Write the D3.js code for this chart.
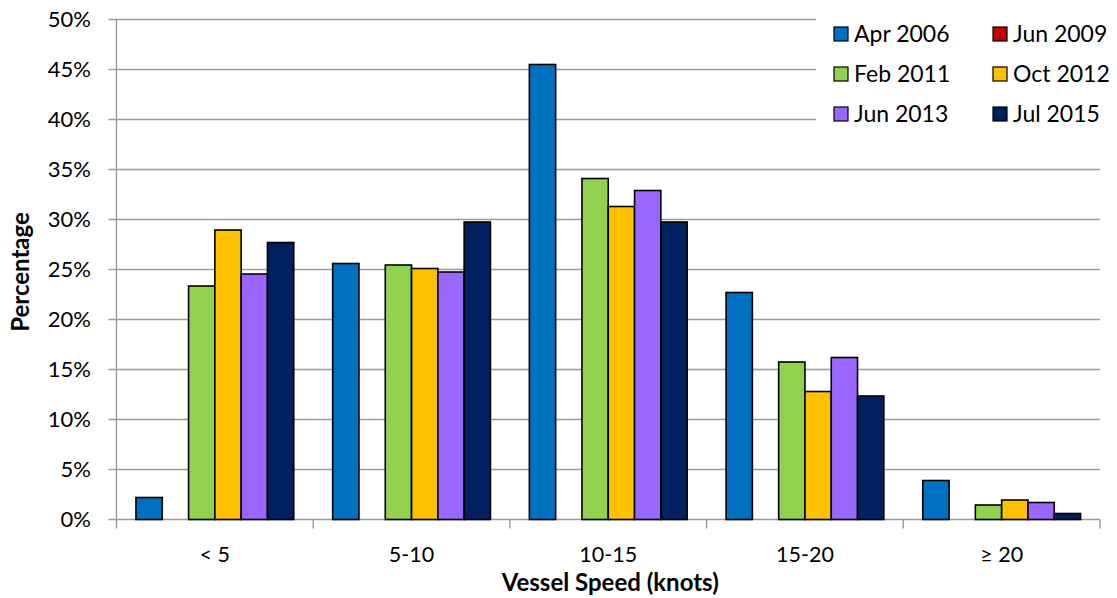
<!DOCTYPE html>
<html><head><meta charset="utf-8">
<script src="https://cdn.jsdelivr.net/npm/d3@7"></script>
<style>body{margin:0;background:#fff;} svg{display:block;font-family:Lato,"Open Sans",sans-serif;}</style>
</head><body><svg id="c" width="1117" height="598"></svg>
<script>
const categories = ["< 5", "5-10", "10-15", "15-20", "≥ 20"];
const seriesNames = ["Apr 2006", "Jun 2009", "Feb 2011", "Oct 2012", "Jun 2013", "Jul 2015"];
const seriesColors = ["#0070C0", "#C00000", "#92D050", "#FFC000", "#9966FF", "#002060"];
const apr2006 = [2.2, 25.6, 45.5, 22.7, 3.9];
const jun2009 = [0, 0, 0, 0, 0];
const feb2011 = [23.35, 25.45, 34.1, 15.75, 1.45];
const oct2012 = [28.95, 25.1, 31.3, 12.8, 1.95];
const jun2013 = [24.55, 24.75, 32.9, 16.2, 1.7];
const jul2015 = [27.7, 29.75, 29.75, 12.35, 0.6];
const yTicks = [0, 5, 10, 15, 20, 25, 30, 35, 40, 45, 50];
const series = [apr2006, jun2009, feb2011, oct2012, jun2013, jul2015];

const svg = d3.select("#c");
const pL = 116.5, pR = 1100, pT = 19.5, pB = 519.5;
const x0 = d3.scaleBand().domain(categories).range([pL, pR]).paddingInner(0).paddingOuter(0);
const x1 = d3.scaleBand().domain(seriesNames).range([0, x0.bandwidth()]).paddingOuter(0.74).paddingInner(0);
const y = d3.scaleLinear().domain([0, 50]).range([pB, pT]);

// gridlines
svg.append("g").selectAll("line").data(yTicks).join("line")
  .attr("x1", pL - 8).attr("x2", pR)
  .attr("y1", d => y(d)).attr("y2", d => y(d))
  .attr("stroke", "#9a9a9a").attr("stroke-width", 1.4);

// y axis line
svg.append("line").attr("x1", pL).attr("x2", pL).attr("y1", pT).attr("y2", pB)
  .attr("stroke", "#9a9a9a").attr("stroke-width", 1.4);

// x category ticks
const xt = categories.map(c => x0(c)).concat([pR]);
svg.append("g").selectAll("line").data(xt).join("line")
  .attr("x1", d => d).attr("x2", d => d).attr("y1", pB).attr("y2", pB + 9)
  .attr("stroke", "#9a9a9a").attr("stroke-width", 1.4);

// y tick labels
svg.append("g").selectAll("text").data(yTicks).join("text")
  .attr("x", 91).attr("y", d => y(d)).attr("dy", "0.36em")
  .attr("text-anchor", "end").attr("font-size", 22).attr("fill", "#000")
  .text(d => d + "%");

// x tick labels
svg.append("g").selectAll("text").data(categories).join("text")
  .attr("x", d => x0(d) + x0.bandwidth() / 2).attr("y", 562)
  .attr("text-anchor", "middle").attr("font-size", 21.5).attr("fill", "#000")
  .text(d => d);

// bars
const g = svg.append("g");
series.forEach((vals, si) => {
  g.append("g").selectAll("rect").data(vals.map((v, i) => ({ c: categories[i], v })).filter(d => d.v > 0))
    .join("rect")
    .attr("x", d => x0(d.c) + x1(seriesNames[si]))
    .attr("width", x1.bandwidth())
    .attr("y", d => y(d.v))
    .attr("height", d => y(0) - y(d.v))
    .attr("fill", seriesColors[si])
    .attr("stroke", "#000").attr("stroke-width", 1.6);
});

// axis titles
svg.append("text").attr("x", (pL + pR) / 2 + 2).attr("y", 591)
  .attr("text-anchor", "middle").attr("font-size", 24).attr("font-weight", "bold")
  .text("Vessel Speed (knots)");
svg.append("text").attr("transform", "translate(29,272) rotate(-90)")
  .attr("text-anchor", "middle").attr("font-size", 24).attr("font-weight", "bold")
  .text("Percentage");

// legend
const lg = svg.append("g");
lg.append("rect").attr("x", 816).attr("y", 10).attr("width", 300).attr("height", 125).attr("fill", "#fff");
seriesNames.forEach((n, i) => {
  const col = i % 2, row = Math.floor(i / 2);
  const lx = col === 0 ? 834 : 993;
  const ly = 34 + row * 40;
  lg.append("rect").attr("x", lx).attr("y", ly - 7).attr("width", 14).attr("height", 14)
    .attr("fill", seriesColors[i]).attr("stroke", "#000").attr("stroke-width", 1.2);
  lg.append("text").attr("x", lx + 20).attr("y", ly).attr("dy", "0.36em")
    .attr("font-size", 23).text(n);
});
</script></body></html>
